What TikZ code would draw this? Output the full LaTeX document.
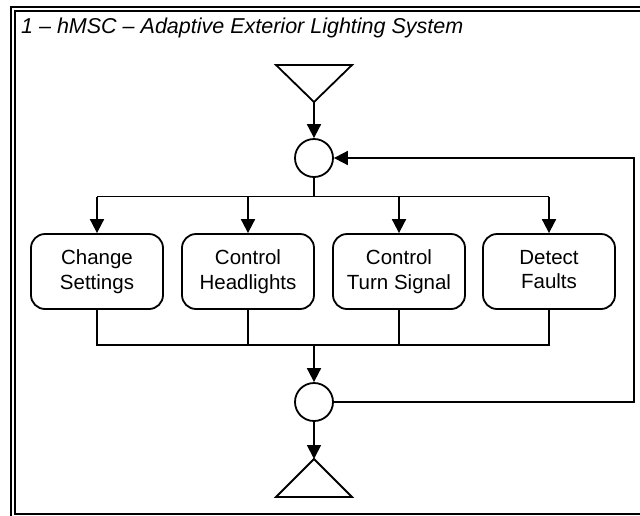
\documentclass[tikz,border=0pt]{standalone}
\usepackage{fontspec}
\setmainfont{Liberation Sans}
\usetikzlibrary{arrows.meta}
\begin{document}
\begin{tikzpicture}[x=1pt,y=-1pt,
  ln/.style={line width=1.8pt},
  arr/.style={ln,-{Triangle[length=14pt,width=14pt]}},
  fr/.style={line width=2pt},
  task/.style={draw,line width=1.8pt,rounded corners=14pt,minimum width=132pt,minimum height=75pt,
    align=center,inner sep=0pt,font=\fontsize{20.5}{24.5}\selectfont},
  junc/.style={draw,circle,line width=1.8pt,minimum size=38pt,inner sep=0pt}]
\useasboundingbox (0,0) rectangle (640,515);
% frame
\draw[fr] (11,530) -- (11,7) -- (650,7);
\draw[fr] (650,513.5) -- (15,513.5) -- (15,11) -- (650,11);
\node[anchor=base west,inner sep=0pt,font=\fontsize{21.5}{24}\selectfont\itshape] (title) at (21,33) {1 – hMSC – Adaptive Exterior Lighting System};
% start triangle
\draw[ln,line join=miter] (276,65) -- (352,65) -- (314,102) -- cycle;
\coordinate (s) at (314,102);
% junctions
\node[junc] (j1) at (314,158) {};
\node[junc] (j2) at (314,402) {};
% tasks
\node[task] (b1) at (97,271.5) {Change\\Settings};
\node[task] (b2) at (248,271.5) {Control\\Headlights};
\node[task] (b3) at (399,271.5) {Control\\Turn Signal};
\node[task] (b4) at (549,271.5) {Detect\\Faults\vphantom{g}};
% end triangle
\draw[ln,line join=miter] (276,497) -- (352,497) -- (314,459) -- cycle;
\coordinate (e) at (314,459);
% connectors
\draw[arr] (s) -- (j1.north);
\coordinate (split) at (314,196.5);
\draw[ln] (j1.south) -- (split);
\draw[ln] (b1.north |- split) -- (b4.north |- split);
\draw[arr] (b1.north |- split) -- (b1.north);
\draw[arr] (b2.north |- split) -- (b2.north);
\draw[arr] (b3.north |- split) -- (b3.north);
\draw[arr] (b4.north |- split) -- (b4.north);
\coordinate (merge) at (314,345);
\draw[ln] (b1.south) -- (b1.south |- merge) -- (b4.south |- merge) -- (b4.south);
\draw[ln] (b2.south) -- (b2.south |- merge);
\draw[ln] (b3.south) -- (b3.south |- merge);
\draw[arr] (merge) -- (j2.north);
\coordinate (loopx) at (634,0);
\draw[arr] (j2.east) -- (j2.east -| loopx) |- (j1.east);
\draw[arr] (j2.south) -- (e);
\end{tikzpicture}
\end{document}
